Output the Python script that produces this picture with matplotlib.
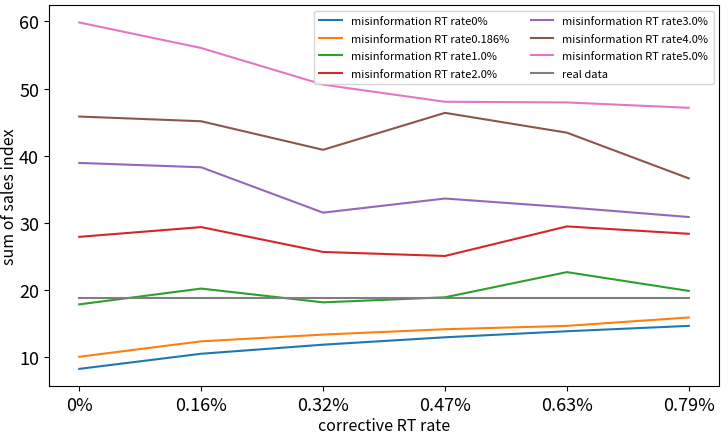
import matplotlib
matplotlib.use("Agg")
import matplotlib.pyplot as plt

plt.rcParams['font.family'] = ['Noto Sans CJK JP', 'DejaVu Sans']

x_labels = ["0%", "0.16%", "0.32%", "0.47%", "0.63%", "0.79%"]
series_names = ["misinformation RT rate0%", "misinformation RT rate0.186%",
                "misinformation RT rate1.0%", "misinformation RT rate2.0%",
                "misinformation RT rate3.0%", "misinformation RT rate4.0%",
                "misinformation RT rate5.0%"]
rate0 = [8.3, 10.55, 11.9, 13.0, 13.9, 14.7]
rate0186 = [10.1, 12.4, 13.4, 14.2, 14.7, 15.95]
rate1 = [17.9, 20.25, 18.2, 18.95, 22.7, 19.9]
rate2 = [27.95, 29.4, 25.7, 25.1, 29.5, 28.4]
rate3 = [38.95, 38.3, 31.55, 33.65, 32.35, 30.9]
rate4 = [45.85, 45.15, 40.9, 46.4, 43.45, 36.65]
rate5 = [59.85, 56.05, 50.6, 48.05, 47.95, 47.15]
real_data = [18.8, 18.8, 18.8, 18.8, 18.8, 18.8]

fig, ax = plt.subplots(figsize=(7.28, 4.39), dpi=100)
xs = list(range(len(x_labels)))
for name, vals in zip(series_names, [rate0, rate0186, rate1, rate2, rate3, rate4, rate5]):
    ax.plot(xs, vals, label=name)
ax.plot(xs, real_data, label="real data")
ax.set_xticks(xs)
ax.set_xticklabels(x_labels)
ax.tick_params(axis='both', labelsize=13)
ax.set_xlabel("corrective RT rate", fontsize=11.5, labelpad=2)
ax.set_ylabel("sum of sales index", fontsize=11.5, labelpad=1)
ax.legend(ncol=2, fontsize=8, loc='upper right', labelspacing=0.68,
          borderpad=0.5)
fig.subplots_adjust(left=0.067, right=0.988, top=0.986, bottom=0.118)
fig.savefig("out.png", dpi=100)
